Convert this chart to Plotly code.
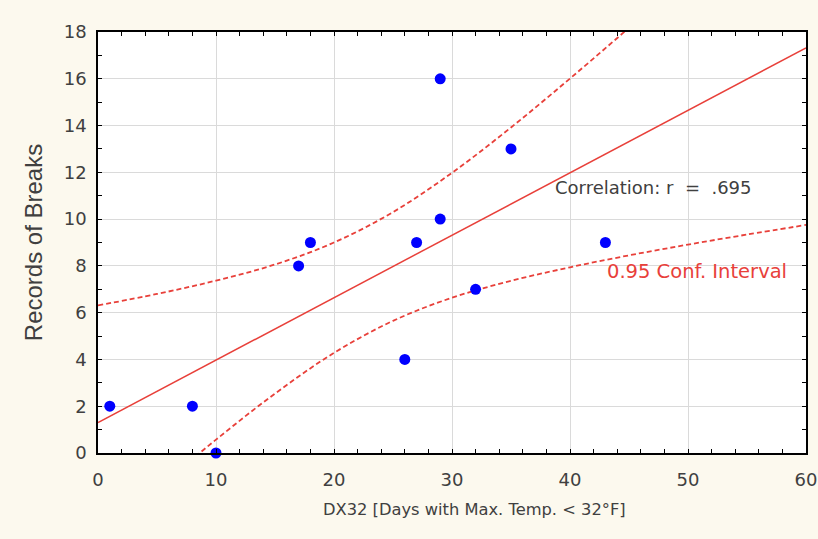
import plotly.graph_objects as go

# Observed data points
dx32 = [1, 8, 10, 17, 18, 26, 27, 29, 29, 32, 35, 43]
breaks = [2, 2, 0, 8, 9, 4, 9, 10, 16, 7, 13, 9]

# Regression line
fit_x = [0, 60]
fit_y = [1.30, 17.32]

# 0.95 confidence band
ci_x = [0, 5, 10, 15, 20, 25, 30, 35, 40, 45, 50, 55, 60]
ci_upper = [6.31, 6.80, 7.37, 8.06, 9.00, 10.30, 11.98, 13.92, 16.01, 18.18, 20.39, 22.63, 24.89]
ci_lower = [-3.71, -1.54, 0.57, 2.54, 4.28, 5.65, 6.64, 7.36, 7.94, 8.45, 8.91, 9.34, 9.75]

x_ticks = [0, 10, 20, 30, 40, 50, 60]
y_ticks = [0, 2, 4, 6, 8, 10, 12, 14, 16, 18]

RED = "#E8403A"
FONT = "DejaVu Sans"
TXT = "#404040"

fig = go.Figure()
fig.add_trace(go.Scatter(x=ci_x, y=ci_upper, mode="lines", line=dict(color=RED, width=1.8, dash="5px,3px", shape="spline"), hoverinfo="skip"))
fig.add_trace(go.Scatter(x=ci_x, y=ci_lower, mode="lines", line=dict(color=RED, width=1.8, dash="5px,3px", shape="spline"), hoverinfo="skip"))
fig.add_trace(go.Scatter(x=fit_x, y=fit_y, mode="lines", line=dict(color=RED, width=1.5)))
fig.add_trace(go.Scatter(x=dx32, y=breaks, mode="markers", marker=dict(color="#0000FF", size=11), cliponaxis=False))

fig.add_annotation(x=38.6, y=11.37, text="Correlation: r\u00a0 =\u00a0 .695", showarrow=False, xanchor="left", yanchor="middle",
                   font=dict(family=FONT, size=18, color=TXT))
fig.add_annotation(x=43.0, y=7.78, text="0.95 Conf. Interval", showarrow=False, xanchor="left", yanchor="middle",
                   font=dict(family=FONT, size=19.5, color=RED))
# x-axis title (offset to the right of centre, as in the original)
fig.add_annotation(x=474, y=521, xref="x domain", yref="paper", text="DX32 [Days with Max. Temp. < 32°F]", showarrow=False,
                   font=dict(family=FONT, size=16.3, color=TXT))

axis_common = dict(showline=True, linecolor="#000000", linewidth=1.5, mirror="allticks",
                   ticks="inside", ticklen=4, tickcolor="#000000", showgrid=True, gridcolor="#DADADA",
                   gridwidth=1, zeroline=False, tickfont=dict(family=FONT, size=18, color=TXT))

fig.update_layout(
    width=818, height=539,
    paper_bgcolor="#FCF9EE", plot_bgcolor="#FFFFFF",
    margin=dict(l=98, r=12, t=32, b=86),
    showlegend=False,
    font=dict(family=FONT, color=TXT),
    xaxis=dict(range=[0, 60], tickvals=x_ticks, automargin=False, ticklabelstandoff=10,
               minor=dict(dtick=2, ticks="inside", ticklen=4, tickcolor="#000000", showgrid=False),
               **axis_common),
    yaxis=dict(range=[0, 18], tickvals=y_ticks, automargin="left", ticklabelstandoff=6,
               minor=dict(dtick=1, ticks="inside", ticklen=4, tickcolor="#000000", showgrid=False),
               title=dict(text="Records of Breaks", font=dict(family="Liberation Sans", size=24, color=TXT), standoff=14),
               **axis_common),
)
# place the x title annotation in pixel terms converted to domain/paper fractions
plot_w = 818 - 98 - 12
plot_h = 539 - 32 - 86
fig.layout.annotations[2].x = (474 - 98) / plot_w
fig.layout.annotations[2].y = -(521 - 453) / plot_h
fig.layout.annotations[2].yref = "y domain"

fig.write_html("out.html", config={"displayModeBar": False},
               post_script="document.body.style.margin='0';document.body.style.overflow='hidden';")
